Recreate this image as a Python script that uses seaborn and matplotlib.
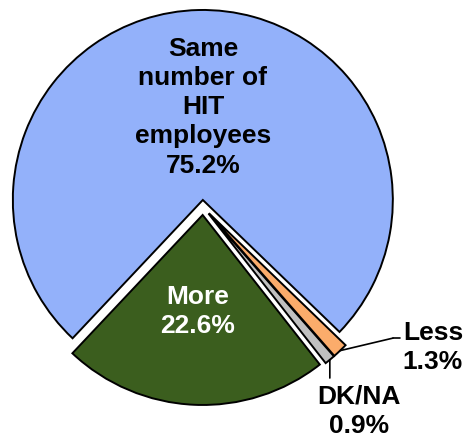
import numpy as np
import matplotlib
matplotlib.use("Agg")
import matplotlib.pyplot as plt
import seaborn as sns

# Data
labels_top = ["Same\nnumber of\nHIT\nemployees", "More", "DK/NA", "Less"]
shares = [75.2, 22.6, 0.9, 1.3]
colors = ["#93b1fa", "#3b5e1e", "#c0c0c0", "#fbac6b"]

sns.set_theme(style="white")
plt.rcParams["font.family"] = ["Liberation Sans", "DejaVu Sans"]

fig = plt.figure(figsize=(4.67, 4.39), dpi=100)
ax = fig.add_axes([0, 0, 1, 1])

wedges, _ = ax.pie(
    shares,
    colors=colors,
    startangle=-44.0,
    counterclock=True,
    explode=[0.037, 0.042, 0.045, 0.045],
    radius=1.0,
    wedgeprops=dict(edgecolor="black", linewidth=1.4),
)

ax.set_xlim(-203 / 190, (467 - 203) / 190)
ax.set_ylim(-(439 - 208) / 190, 208 / 190)
ax.set_aspect("equal")
ax.axis("off")

txt = dict(fontsize=19, fontweight="bold", ha="center", va="center", linespacing=1.27)

# inner labels
ax.text(0.0, 0.53, f"{labels_top[0]}\n{shares[0]}%", color="black", **txt)
ax.text(-0.03, -0.545, f"{labels_top[1]}\n{shares[1]}%", color="white", **txt)


def edge_point(w):
    mid = np.deg2rad((w.theta1 + w.theta2) / 2)
    cx, cy = w.center
    return cx + w.r * np.cos(mid), cy + w.r * np.sin(mid)


# Less label
less = wedges[3]
x0, y0 = edge_point(less)
ax.annotate("", xy=(x0, y0), xytext=(1.0, -0.69),
            arrowprops=dict(arrowstyle="-", color="black", lw=1.2, shrinkA=0, shrinkB=0))
ax.plot([1.0, 1.035], [-0.69, -0.69], color="black", lw=1.2)
ax.text(1.21, -0.735, f"{labels_top[3]}\n{shares[3]}%", color="black", **txt)

# DK/NA label
dk = wedges[2]
x1, y1 = edge_point(dk)
ax.annotate("", xy=(x1, y1), xytext=(x1, -0.90),
            arrowprops=dict(arrowstyle="-", color="black", lw=1.2, shrinkA=0, shrinkB=0))
ax.text(0.82, -1.07, f"{labels_top[2]}\n{shares[2]}%", color="black", **txt)

fig.savefig("out.png", dpi=100)
